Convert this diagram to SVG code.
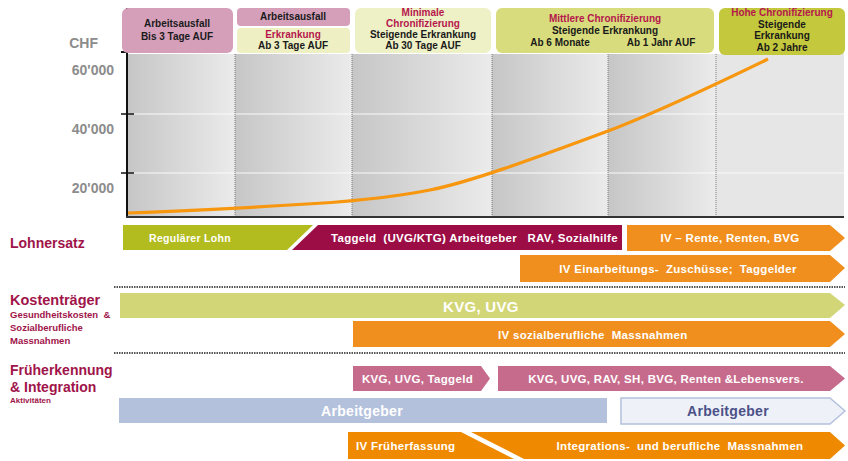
<svg xmlns="http://www.w3.org/2000/svg" width="848" height="461" viewBox="0 0 848 461">
<defs>
<linearGradient id="colg" x1="0" y1="0" x2="1" y2="0">
<stop offset="0" stop-color="#c6c6c6"/>
<stop offset="1" stop-color="#ebebeb"/>
</linearGradient>
</defs>
<style>
text{font-family:"Liberation Sans",Arial,sans-serif;font-weight:bold;white-space:pre}
.hd{font-size:10px;fill:#1a1a1a;text-anchor:middle}
.hr{font-size:10px;fill:#b5174d;text-anchor:middle}
.ax{font-size:14px;fill:#8c8c8c;text-anchor:end}
.sec{fill:#a0144a}
.bt{font-size:11.5px;fill:#fff;letter-spacing:0.3px}
.sep{stroke:#555;stroke-width:2;stroke-dasharray:1.5 1;fill:none}
.vd{stroke:#7a7a7a;stroke-width:1;stroke-dasharray:1 1}
</style>

<g id="chart">
<rect x="128" y="54" width="107" height="162" fill="url(#colg)"/>
<rect x="235" y="54" width="117" height="162" fill="url(#colg)"/>
<rect x="352" y="54" width="140" height="162" fill="url(#colg)"/>
<rect x="492" y="54" width="116" height="162" fill="url(#colg)"/>
<rect x="608" y="54" width="108" height="162" fill="url(#colg)"/>
<rect x="716" y="54" width="128" height="162" fill="#e6e6e6"/>
<line x1="128" y1="114" x2="844" y2="114" stroke="#fafafa" stroke-width="1"/>
<line x1="128" y1="173" x2="844" y2="173" stroke="#fafafa" stroke-width="1"/>
<line class="vd" x1="235" y1="54" x2="235" y2="216"/>
<line class="vd" x1="352" y1="54" x2="352" y2="216"/>
<line class="vd" x1="492" y1="54" x2="492" y2="216"/>
<line class="vd" x1="608" y1="54" x2="608" y2="216"/>
<line class="vd" x1="716" y1="54" x2="716" y2="216"/>
<line x1="127" y1="8" x2="127" y2="218" stroke="#111" stroke-width="2"/>
<line x1="126" y1="217" x2="844" y2="217" stroke="#333" stroke-width="2"/>
<line x1="121" y1="52" x2="136" y2="52" stroke="#111" stroke-width="2"/>
<line x1="121" y1="114" x2="134" y2="114" stroke="#111" stroke-width="1.5"/>
<line x1="121" y1="173" x2="134" y2="173" stroke="#111" stroke-width="1.5"/>
<text class="ax" x="98" y="48">CHF</text>
<text class="ax" x="114" y="75">60'000</text>
<text class="ax" x="114" y="134">40'000</text>
<text class="ax" x="114" y="193">20'000</text>
<path d="M128,213 C180,211 230,209 290,205 C330,203 380,200 430,190 C470,182 530,160 608,131 C650,115 700,92 768,59" fill="none" stroke="#f7960f" stroke-width="3.2"/>
</g>

<g id="header1">
<rect x="122" y="8" width="111" height="45" rx="6" fill="#d59fba"/>
<text class="hd" x="177" y="27">Arbeitsausfall</text>
<text class="hd" x="177" y="40">Bis 3 Tage AUF</text>
</g>
<g id="header2">
<rect x="237" y="8" width="113" height="18" rx="4" fill="#d59fba"/>
<text class="hd" x="293" y="20">Arbeitsausfall</text>
<rect x="237" y="28" width="113" height="25" rx="4" fill="#eef0c3"/>
<text class="hr" x="293" y="38">Erkrankung</text>
<text class="hd" x="293" y="49">Ab 3 Tage AUF</text>
</g>
<g id="header3">
<rect x="355" y="8" width="136" height="45" rx="6" fill="#eef0c6"/>
<text class="hr" x="423" y="16">Minimale</text>
<text class="hr" x="423" y="27">Chronifizierung</text>
<text class="hd" x="423" y="38">Steigende Erkrankung</text>
<text class="hd" x="423" y="49">Ab 30 Tage AUF</text>
</g>
<g id="header4">
<rect x="496" y="8" width="218" height="45" rx="6" fill="#d8dc7c"/>
<text class="hr" x="605" y="22">Mittlere Chronifizierung</text>
<text class="hd" x="605" y="34">Steigende Erkrankung</text>
<text class="hd" x="560" y="46">Ab 6 Monate</text>
<text class="hd" x="661" y="46">Ab 1 Jahr AUF</text>
</g>
<g id="header5">
<rect x="719" y="8" width="126" height="47" rx="6" fill="#c3c83c"/>
<text class="hr" x="782" y="16">Hohe Chronifizierung</text>
<text class="hd" x="782" y="28">Steigende</text>
<text class="hd" x="782" y="39">Erkrankung</text>
<text class="hd" x="782" y="51">Ab 2 Jahre</text>
</g>

<g id="lohnersatz">
<text class="sec" x="10" y="248" style="font-size:14px">Lohnersatz</text>
<polygon points="123,225 313,225 287,250 123,250" fill="#b3bc1e"/>
<text class="bt" x="190" y="242" text-anchor="middle" style="font-size:10.5px">Regulärer Lohn</text>
<polygon points="318,225 622,225 622,250 292,250" fill="#9c0c45"/>
<text class="bt" x="331" y="242">Taggeld  (UVG/KTG) Arbeitgeber   RAV, Sozialhilfe</text>
<polygon points="627,225 830,225 845,238 830,251 627,251" fill="#f08f1e"/>
<text class="bt" x="730" y="242" text-anchor="middle">IV – Rente, Renten, BVG</text>
<polygon points="520,255 830,255 845,268 830,282 520,282" fill="#f08f1e"/>
<text class="bt" x="678" y="273" text-anchor="middle">IV Einarbeitungs-  Zuschüsse;  Taggelder</text>
</g>

<g id="separators">
<line class="sep" x1="114" y1="287" x2="845" y2="287"/>
<line class="sep" x1="114" y1="353" x2="845" y2="353"/>
</g>

<g id="kostentraeger">
<text class="sec" x="10" y="305" style="font-size:14.5px">Kostenträger</text>
<text class="sec" x="10" y="318" style="font-size:9.5px">Gesundheitskosten  &amp;</text>
<text class="sec" x="10" y="331" style="font-size:9.5px">Sozialberufliche</text>
<text class="sec" x="10" y="344" style="font-size:9.5px">Massnahmen</text>
<polygon points="120,293 830,293 845,305 830,318 120,318" fill="#d3d677"/>
<text class="bt" x="443" y="312" style="font-size:15px">KVG, UVG</text>
<polygon points="353,321 830,321 845,334 830,347 353,347" fill="#f08f1e"/>
<text class="bt" x="498" y="339">IV sozialberufliche  Massnahmen</text>
</g>

<g id="frueherkennung">
<text class="sec" x="10" y="375" style="font-size:14px">Früherkennung</text>
<text class="sec" x="10" y="392" style="font-size:14px">&amp; Integration</text>
<text class="sec" x="10" y="403" style="font-size:8px">Aktivitäten</text>
<polygon points="353,366 481,366 490,378.5 481,391 353,391" fill="#c76b8c"/>
<text class="bt" x="362" y="383">KVG, UVG, Taggeld</text>
<polygon points="498,366 830,366 845,378.5 830,391 498,391" fill="#c76b8c"/>
<text class="bt" x="666" y="383" text-anchor="middle">KVG, UVG, RAV, SH, BVG, Renten &amp;Lebensvers.</text>
<rect x="119" y="398" width="488" height="25" fill="#b4c1dd"/>
<text class="bt" x="362" y="416" text-anchor="middle" style="font-size:14px">Arbeitgeber</text>
<polygon points="621,398 830,398 845,411 830,424 621,424" fill="#eef1f8" stroke="#b4c1dd" stroke-width="1.5"/>
<text class="bt" x="728" y="416" text-anchor="middle" style="font-size:14px;fill:#4b5088">Arbeitgeber</text>
<polygon points="348,432 461,432 514,459 348,459" fill="#ef8a00"/>
<text class="bt" x="356" y="450">IV Früherfassung</text>
<polygon points="471,432 830,432 845,445.5 830,459 524,459" fill="#ef8a00"/>
<text class="bt" x="680" y="450" text-anchor="middle">Integrations-  und berufliche  Massnahmen</text>
</g>
</svg>
